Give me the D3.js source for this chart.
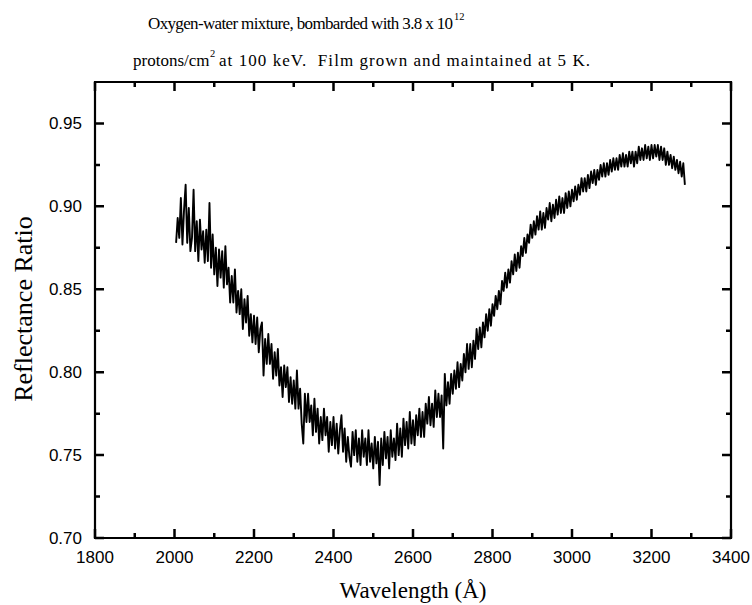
<!DOCTYPE html>
<html><head><meta charset="utf-8">
<script src="https://cdn.jsdelivr.net/npm/d3@7"></script>
<style>body{margin:0;background:#fff}svg{display:block}</style>
</head><body><svg id="c" width="752" height="605"></svg>
<script>
const lambdaStart = 2004, lambdaStep = 4;
// Reflectance ratio, one value per grid step
const reflectance = [
 .878,.893,.881,.905,.877,.898,.913,.878,.899,.873,.881,.910,.873,.891,.867,.892,.874,.885,.866,.886,.867,.902,.863,.883,.859,
 .875,.852,.874,.857,.873,.851,.876,.853,.863,.842,.858,.842,.862,.836,.849,.835,.850,.826,.844,.830,.846,.822,.835,.818,.834,
 .817,.833,.812,.826,.830,.798,.820,.805,.823,.805,.817,.796,.812,.798,.814,.792,.803,.785,.804,.791,.803,.782,.797,.781,.795,
 .778,.801,.778,.790,.769,.757,.787,.770,.787,.770,.780,.762,.784,.764,.778,.757,.773,.759,.778,.762,.773,.752,.770,.756,.773,
 .754,.769,.751,.765,.774,.752,.766,.746,.761,.749,.743,.764,.750,.765,.746,.760,.744,.765,.749,.760,.744,.765,.746,.757,.742,
 .761,.745,.758,.732,.760,.744,.764,.748,.761,.742,.765,.749,.760,.747,.769,.750,.766,.749,.772,.756,.770,.754,.776,.757,.771,
 .756,.774,.762,.778,.761,.776,.761,.781,.769,.785,.768,.781,.767,.789,.773,.787,.773,.786,.754,.799,.780,.794,.781,.799,.787,
 .801,.790,.806,.791,.805,.795,.811,.800,.817,.802,.817,.803,.819,.808,.826,.814,.827,.815,.830,.821,.835,.825,.838,.828,.841,
 .834,.846,.838,.849,.841,.855,.849,.860,.851,.862,.854,.867,.859,.871,.861,.872,.863,.876,.870,.881,.872,.883,.878,.889,.881,
 .891,.883,.894,.886,.897,.886,.896,.887,.899,.892,.902,.891,.901,.893,.904,.895,.906,.896,.905,.896,.908,.899,.909,.900,.910,
 .903,.912,.904,.913,.907,.917,.909,.917,.909,.919,.911,.921,.914,.922,.913,.922,.916,.925,.918,.926,.918,.926,.919,.928,.921,
 .929,.922,.929,.922,.931,.924,.932,.924,.931,.924,.933,.926,.933,.924,.933,.926,.936,.928,.935,.928,.937,.929,.936,.928,.937,
 .929,.937,.930,.937,.928,.936,.928,.935,.925,.933,.925,.931,.923,.930,.922,.928,.920,.927,.918,.926,.913
];
const xDomain = [1800, 3400];
const yDomain = [0.70, 0.975];
const xTicks = [1800, 2000, 2200, 2400, 2600, 2800, 3000, 3200, 3400];
const xMinorTicks = [1900, 2100, 2300, 2500, 2700, 2900, 3100, 3300];
const yTicks = [0.70, 0.75, 0.80, 0.85, 0.90, 0.95];
const yMinorTicks = [0.725, 0.775, 0.825, 0.875, 0.925];
const xTitle = "Wavelength (Å)";
const yTitle = "Reflectance Ratio";
const titleLine1 = "Oxygen-water mixture, bombarded with 3.8 x 10";
const titleLine1Sup = "12";
const titleLine2a = "protons/cm";
const titleLine2Sup = "2";
const titleLine2b = "at 100 keV.\u00a0 Film grown and maintained at 5 K.";

const svg = d3.select("#c");
const L = 95, R = 731, T = 82, B = 538;
const x = d3.scaleLinear(xDomain, [L, R]);
const y = d3.scaleLinear(yDomain, [B, T]);

const sans = "'Liberation Sans', Arial, sans-serif";
const serif = "'Liberation Serif', 'Times New Roman', serif";

// Title
const title = svg.append("g").attr("font-family", serif).attr("font-size", 17).attr("fill", "#000");
title.append("text").attr("x", 148).attr("y", 29)
  .attr("textLength", 305).attr("lengthAdjust", "spacing").text(titleLine1);
title.append("text").attr("x", 454).attr("y", 20).attr("font-size", 10.5).text(titleLine1Sup);
title.append("text").attr("x", 133).attr("y", 66).text(titleLine2a);
title.append("text").attr("x", 210).attr("y", 57).attr("font-size", 10.5).text(titleLine2Sup);
title.append("text").attr("x", 219).attr("y", 66)
  .attr("textLength", 371).attr("lengthAdjust", "spacing").text(titleLine2b);

// Data line
const line = d3.line()
  .x((d, i) => x(lambdaStart + i * lambdaStep))
  .y(d => y(d));
svg.append("path").datum(reflectance)
  .attr("d", line).attr("fill", "none").attr("stroke", "#000")
  .attr("stroke-width", 1.9).attr("stroke-linejoin", "round");

// Frame
svg.append("path").attr("d", `M${L},${T}H${R}V${B}H${L}Z`)
  .attr("fill", "none").attr("stroke", "#000").attr("stroke-width", 2.2);

// Tick marks (inward, on all four sides)
function addTicks(vals, len, isX) {
  const d = vals.map(v => isX
    ? `M${x(v)},${B}v${-len}M${x(v)},${T}v${len}`
    : `M${L},${y(v)}h${len}M${R},${y(v)}h${-len}`).join("");
  svg.append("path").attr("d", d).attr("fill", "none").attr("stroke", "#000").attr("stroke-width", 2.5);
}
addTicks(xTicks, 9, true);
addTicks(xMinorTicks, 5, true);
addTicks(yTicks, 9, false);
addTicks(yMinorTicks, 5, false);

// Tick labels
svg.append("g").attr("font-family", sans).attr("font-size", 17).attr("fill", "#000")
  .attr("text-anchor", "middle")
  .selectAll("text").data(xTicks).join("text")
  .attr("x", d => x(d)).attr("y", B + 25).text(d3.format("d"));
svg.append("g").attr("font-family", sans).attr("font-size", 17).attr("fill", "#000")
  .attr("text-anchor", "end")
  .selectAll("text").data(yTicks).join("text")
  .attr("x", L - 13).attr("y", d => y(d) + 6).text(d3.format(".2f"));

// Axis titles
svg.append("text").attr("x", 413).attr("y", 598).attr("text-anchor", "middle")
  .attr("font-family", serif).attr("font-size", 23).attr("fill", "#000").text(xTitle);
svg.append("text").attr("transform", "translate(32,309) rotate(-90)").attr("text-anchor", "middle")
  .attr("font-family", serif).attr("font-size", 26).attr("fill", "#000").text(yTitle);
</script>
</body></html>
